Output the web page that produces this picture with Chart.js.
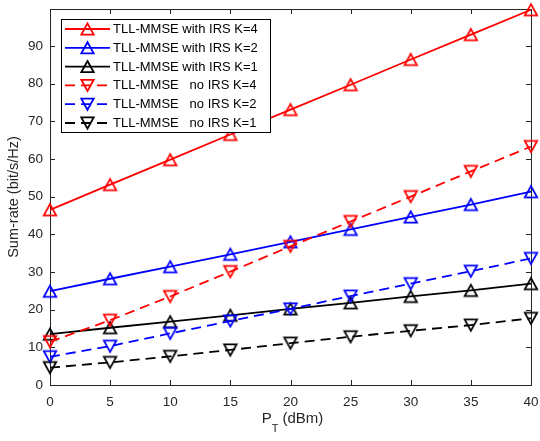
<!DOCTYPE html>
<html>
<head>
<meta charset="utf-8">
<script src="https://cdn.jsdelivr.net/npm/chart.js@4.4.1/dist/chart.umd.min.js"></script>
<style>
  html, body { margin: 0; padding: 0; background: #fff; }
  #wrap { width: 540px; height: 441px; }
</style>
</head>
<body>
<div id="wrap"><canvas id="rateChart" width="540" height="441"></canvas></div>
<script>
const xValues = [0, 5, 10, 15, 20, 25, 30, 35, 40];
const irsK4 = [46.5, 53.2, 59.8, 66.5, 73.1, 79.7, 86.4, 93.0, 99.6];
const irsK2 = [24.9, 28.2, 31.4, 34.7, 38.0, 41.3, 44.6, 47.9, 51.3];
const irsK1 = [13.5, 15.2, 16.8, 18.5, 20.2, 21.8, 23.5, 25.1, 26.9];
const noIrsK4 = [11.5, 17.2, 23.5, 30.1, 36.8, 43.4, 50.0, 56.7, 63.3];
const noIrsK2 = [7.5, 10.3, 13.7, 17.0, 20.2, 23.6, 26.9, 30.2, 33.6];
const noIrsK1 = [4.6, 6.0, 7.6, 9.3, 11.1, 12.8, 14.4, 15.9, 17.7];
const xTicks = [0, 5, 10, 15, 20, 25, 30, 35, 40];
const yTicks = [0, 10, 20, 30, 40, 50, 60, 70, 80, 90];

const seriesNames = [
  "TLL-MMSE with IRS K=4",
  "TLL-MMSE with IRS K=2",
  "TLL-MMSE with IRS K=1",
  "TLL-MMSE   no IRS K=4",
  "TLL-MMSE   no IRS K=2",
  "TLL-MMSE   no IRS K=1"
];
const seriesData = [irsK4, irsK2, irsK1, noIrsK4, noIrsK2, noIrsK1];
const seriesColors = ["#ff0000", "#0000ff", "#000000", "#ff0000", "#0000ff", "#000000"];
const seriesDashed = [false, false, false, true, true, true];

const FONT = "'Liberation Sans', Arial, Helvetica, sans-serif";
const AXIS_COLOR = "#262626";

// triangle marker as a small canvas so it is centred on its bounding box
function traceTri(ctx, cx, cy, up) {
  const hw = 6.2, hh = 5.6;
  ctx.beginPath();
  if (up) {
    ctx.moveTo(cx, cy - hh);
    ctx.lineTo(cx + hw, cy + hh);
    ctx.lineTo(cx - hw, cy + hh);
  } else {
    ctx.moveTo(cx, cy + hh);
    ctx.lineTo(cx + hw, cy - hh);
    ctx.lineTo(cx - hw, cy - hh);
  }
  ctx.closePath();
}

function makeMarker(color, up) {
  const c = document.createElement("canvas");
  c.width = 18; c.height = 18;
  const ctx = c.getContext("2d");
  ctx.strokeStyle = color;
  ctx.lineWidth = 1.8;
  traceTri(ctx, 9, 9, up);
  ctx.stroke();
  return c;
}

const datasets = seriesData.map((vals, i) => ({
  label: seriesNames[i],
  data: xValues.map((x, j) => ({ x: x, y: vals[j] })),
  borderColor: seriesColors[i],
  backgroundColor: seriesColors[i],
  borderWidth: 1.8,
  borderDash: seriesDashed[i] ? [10, 6] : [],
  pointStyle: makeMarker(seriesColors[i], !seriesDashed[i]),
  pointRadius: 7,
  pointHoverRadius: 7,
  tension: 0,
  fill: false,
  clip: false,
  order: seriesData.length - i
}));

const framePlugin = {
  id: "frame",
  beforeDatasetsDraw(chart) {
    const { ctx, chartArea: a, scales } = chart;
    ctx.save();
    ctx.strokeStyle = AXIS_COLOR;
    ctx.lineWidth = 1;
    const tl = 5;
    ctx.beginPath();
    xTicks.forEach(v => {
      const px = Math.round(scales.x.getPixelForValue(v)) + 0.5;
      ctx.moveTo(px, a.bottom); ctx.lineTo(px, a.bottom - tl);
      ctx.moveTo(px, a.top); ctx.lineTo(px, a.top + tl);
    });
    yTicks.forEach(v => {
      const py = Math.round(scales.y.getPixelForValue(v)) + 0.5;
      ctx.moveTo(a.left, py); ctx.lineTo(a.left + tl, py);
      ctx.moveTo(a.right, py); ctx.lineTo(a.right - tl, py);
    });
    ctx.stroke();
    ctx.strokeRect(Math.round(a.left) + 0.5, Math.round(a.top) + 0.5,
      Math.round(a.right - a.left), Math.round(a.bottom - a.top));
    ctx.restore();
  },
  afterDatasetsDraw(chart) {
    const { ctx, chartArea: a } = chart;
    ctx.save();
    // legend box
    const bx = a.left + 11, by = a.top + 10, bw = 209, bh = 113;
    ctx.fillStyle = "#fff";
    ctx.fillRect(bx, by, bw, bh);
    ctx.strokeStyle = "#000";
    ctx.lineWidth = 1;
    ctx.strokeRect(Math.round(bx) + 0.5, Math.round(by) + 0.5, bw, bh);
    ctx.font = "13px " + FONT;
    ctx.textBaseline = "middle";
    seriesNames.forEach((name, i) => {
      const ry = by + 10 + i * 18.8;
      ctx.strokeStyle = seriesColors[i];
      ctx.lineWidth = 1.8;
      ctx.setLineDash(seriesDashed[i] ? [10, 6] : []);
      ctx.beginPath();
      ctx.moveTo(bx + 4, ry); ctx.lineTo(bx + 49, ry);
      ctx.stroke();
      ctx.setLineDash([]);
      traceTri(ctx, bx + 26.5, ry, !seriesDashed[i]);
      ctx.stroke();
      ctx.fillStyle = "#000";
      ctx.fillText(name, bx + 52, ry + 0.5);
    });
    // x axis title with subscript
    const cx = (a.left + a.right) / 2 + 2;
    const base = 423;
    ctx.fillStyle = AXIS_COLOR;
    ctx.textBaseline = "alphabetic";
    ctx.font = "15px " + FONT;
    const wP = ctx.measureText("P").width;
    const wRest = ctx.measureText(" (dBm)").width;
    ctx.font = "11px " + FONT;
    const wT = ctx.measureText("T").width;
    const x0 = cx - (wP + wT + wRest) / 2;
    ctx.font = "15px " + FONT;
    ctx.fillText("P", x0, base);
    ctx.font = "11px " + FONT;
    ctx.fillText("T", x0 + wP, base + 9);
    ctx.font = "15px " + FONT;
    ctx.fillText(" (dBm)", x0 + wP + wT, base);
    ctx.restore();
  }
};

const ctx = document.getElementById("rateChart").getContext("2d");
new Chart(ctx, {
  type: "line",
  data: { datasets: datasets },
  options: {
    responsive: false,
    animation: false,
    layout: { padding: { left: 0, right: 9, top: 9, bottom: 0 } },
    plugins: {
      legend: { display: false },
      tooltip: { enabled: false },
      title: { display: false }
    },
    scales: {
      x: {
        type: "linear",
        min: 0,
        max: 40,
        afterFit: s => { s.height = 56; s.paddingLeft = 0; s.paddingRight = 0; },
        afterBuildTicks: s => { s.ticks = xTicks.map(v => ({ value: v })); },
        grid: { display: false, drawTicks: false },
        border: { display: false },
        ticks: { color: AXIS_COLOR, padding: 9, font: { family: FONT, size: 13.5 } }
      },
      y: {
        type: "linear",
        min: 0,
        max: 99.8,
        afterFit: s => { s.width = 50; s.paddingTop = 0; s.paddingBottom = 0; },
        afterBuildTicks: s => { s.ticks = yTicks.map(v => ({ value: v })); },
        grid: { display: false, drawTicks: false },
        border: { display: false },
        ticks: { color: AXIS_COLOR, padding: 7, font: { family: FONT, size: 13.5 } },
        title: {
          display: true,
          text: "Sum-rate (bit/s/Hz)",
          color: AXIS_COLOR,
          padding: { top: 5, bottom: 0 },
          font: { family: FONT, size: 14.5 }
        }
      }
    }
  },
  plugins: [framePlugin]
});
</script>
</body>
</html>
